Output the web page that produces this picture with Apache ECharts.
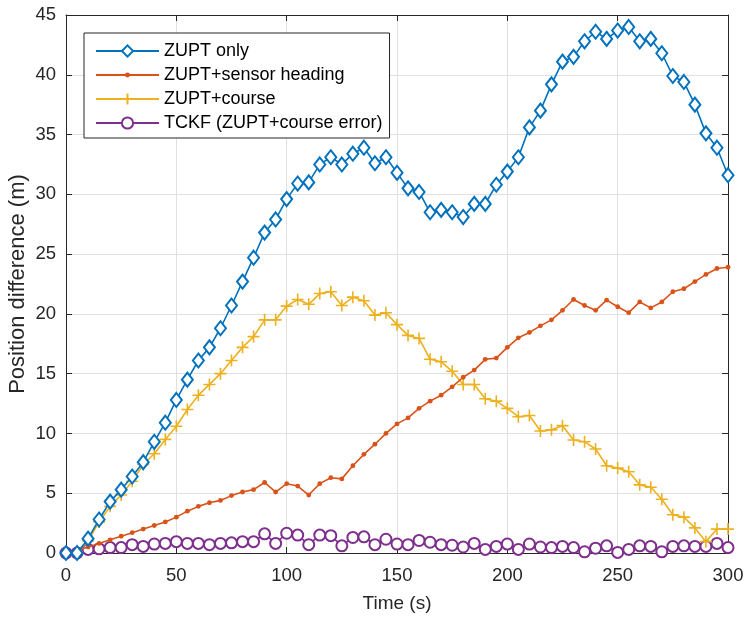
<!DOCTYPE html>
<html><head><meta charset="utf-8">
<script src="https://cdn.jsdelivr.net/npm/echarts@6/dist/echarts.min.js"></script>
<style>html,body{margin:0;padding:0;background:#fff}#c{width:745px;height:626px}</style>
</head><body><div id="c"></div>
<script>
const times = [0,5,10,15,20,25,30,35,40,45,50,55,60,65,70,75,80,85,90,95,100,105,110,115,120,125,130,135,140,145,150,155,160,165,170,175,180,185,190,195,200,205,210,215,220,225,230,235,240,245,250,255,260,265,270,275,280,285,290,295,300];
const zuptOnly = [0,0,1.2,2.8,4.3,5.3,6.4,7.6,9.3,10.9,12.8,14.5,16.1,17.2,18.8,20.7,22.7,24.7,26.8,27.9,29.6,30.9,31.0,32.5,33.1,32.5,33.4,33.9,32.6,33.1,31.8,30.5,30.2,28.5,28.7,28.5,28.1,29.2,29.2,30.8,31.9,33.1,35.6,37.0,39.2,41.1,41.5,42.8,43.6,43.0,43.7,44.0,42.8,43.0,41.8,39.9,39.4,37.5,35.1,33.9,31.6];
const sensorHeading = [0,0.2,0.5,0.8,1.1,1.4,1.7,2.0,2.3,2.6,3.0,3.5,3.9,4.2,4.4,4.8,5.1,5.3,5.9,5.1,5.8,5.6,4.85,5.8,6.3,6.2,7.3,8.25,9.1,10.0,10.8,11.3,12.1,12.7,13.2,13.9,14.7,15.3,16.2,16.3,17.2,18.0,18.45,19.0,19.5,20.3,21.2,20.7,20.3,21.15,20.6,20.1,21.0,20.5,21.0,21.85,22.1,22.7,23.3,23.8,23.9];
const zuptCourse = [0,0.1,1.0,2.6,3.9,4.85,6.0,7.4,8.3,9.5,10.6,12.0,13.2,14.1,15.0,16.1,17.2,18.1,19.5,19.5,20.65,21.2,20.8,21.7,21.85,20.7,21.4,21.1,19.9,20.1,19.1,18.2,17.95,16.2,16.0,15.2,14.1,14.1,12.9,12.7,12.1,11.4,11.5,10.2,10.3,10.65,9.45,9.3,8.7,7.3,7.1,6.8,5.7,5.5,4.5,3.2,3.0,2.1,0.95,2.0,2.0];
const tckf = [0,0,0.3,0.35,0.45,0.45,0.7,0.55,0.75,0.8,0.95,0.8,0.8,0.7,0.8,0.85,0.95,0.95,1.6,0.8,1.65,1.5,0.7,1.5,1.45,0.6,1.3,1.35,0.7,1.15,0.75,0.7,1.05,0.9,0.7,0.65,0.5,0.8,0.3,0.55,0.75,0.3,0.75,0.5,0.45,0.55,0.45,0.1,0.4,0.6,0.05,0.3,0.6,0.55,0.1,0.55,0.6,0.55,0.55,0.8,0.45];
const seriesNames = ['ZUPT only','ZUPT+sensor heading','ZUPT+course','TCKF (ZUPT+course error)'];
const xTicks = [0,50,100,150,200,250,300];
const yTicks = [0,5,10,15,20,25,30,35,40,45];

const colors = ['#0072BD','#D95319','#EDB120','#7E2F8E'];
const FONT = '"Liberation Sans", Arial, sans-serif';
const TXT = '#262626';
const pair = arr => times.map((t,i)=>[t,arr[i]]);
const plusPath = 'path://M6,0L6,12M0,6L12,6';
const dotPath = 'path://M0,0M10,10M7.2,5A2.2,2.2,0,1,1,2.8,5A2.2,2.2,0,1,1,7.2,5Z';

const chart = echarts.init(document.getElementById('c'), null, {renderer:'canvas'});
const baseAxis = {
  axisLine:{show:true,onZero:false,lineStyle:{color:TXT,width:1}},
  axisTick:{show:true,inside:true,length:6,lineStyle:{color:TXT,width:1}},
  axisLabel:{color:TXT,fontSize:18.5,fontFamily:FONT},
  splitLine:{show:true,lineStyle:{color:'#e0e0e0',width:1}}
};
chart.setOption({
  animation:false,
  backgroundColor:'#fff',
  grid:{left:66,right:17,top:15,bottom:73,containLabel:false,outerBoundsMode:'none'},
  legend:{
    show:true, orient:'vertical', left:84, top:33,
    backgroundColor:'#fff', borderColor:TXT, borderWidth:1,
    padding:[9,7,6,11], itemWidth:63, itemHeight:14, itemGap:6,
    textStyle:{color:'#000',fontSize:18,fontFamily:FONT},
    data:seriesNames
  },
  xAxis:[
    Object.assign({}, baseAxis, {type:'value',min:0,max:300,interval:50,position:'bottom',
      axisLabel:Object.assign({}, baseAxis.axisLabel,{margin:13}),
      name:'Time (s)',nameLocation:'middle',nameGap:41,nameMoveOverlap:false,
      nameTextStyle:{color:TXT,fontSize:19,fontFamily:FONT}}),
    Object.assign({}, baseAxis, {type:'value',min:0,max:300,interval:50,position:'top',
      axisLabel:{show:false},splitLine:{show:false}})
  ],
  yAxis:[
    Object.assign({}, baseAxis, {type:'value',min:0,max:45,interval:5,position:'left',
      axisLabel:Object.assign({}, baseAxis.axisLabel,{margin:10}),
      name:'Position difference (m)',nameLocation:'middle',nameGap:37,nameRotate:90,nameMoveOverlap:false,
      nameTextStyle:{color:TXT,fontSize:22,fontFamily:FONT}}),
    Object.assign({}, baseAxis, {type:'value',min:0,max:45,interval:5,position:'right',
      axisLabel:{show:false},splitLine:{show:false}})
  ],
  series:[
    {name:seriesNames[0],type:'line',data:pair(zuptOnly),symbol:'emptyDiamond',symbolSize:[11,14],
      lineStyle:{color:colors[0],width:1.6},itemStyle:{color:colors[0],borderColor:colors[0],borderWidth:1.6},z:4},
    {name:seriesNames[1],type:'line',data:pair(sensorHeading),symbol:dotPath,symbolSize:11,
      lineStyle:{color:colors[1],width:1.6},itemStyle:{color:colors[1],borderColor:colors[1],borderWidth:0},z:3},
    {name:seriesNames[2],type:'line',data:pair(zuptCourse),symbol:plusPath,symbolSize:12,
      lineStyle:{color:colors[2],width:1.6},itemStyle:{color:colors[2],borderColor:colors[2],borderWidth:1.6},z:2},
    {name:seriesNames[3],type:'line',data:pair(tckf),symbol:'emptyCircle',symbolSize:11,
      lineStyle:{color:colors[3],width:1.6},itemStyle:{color:colors[3],borderColor:colors[3],borderWidth:1.6},z:1}
  ]
});
</script></body></html>
